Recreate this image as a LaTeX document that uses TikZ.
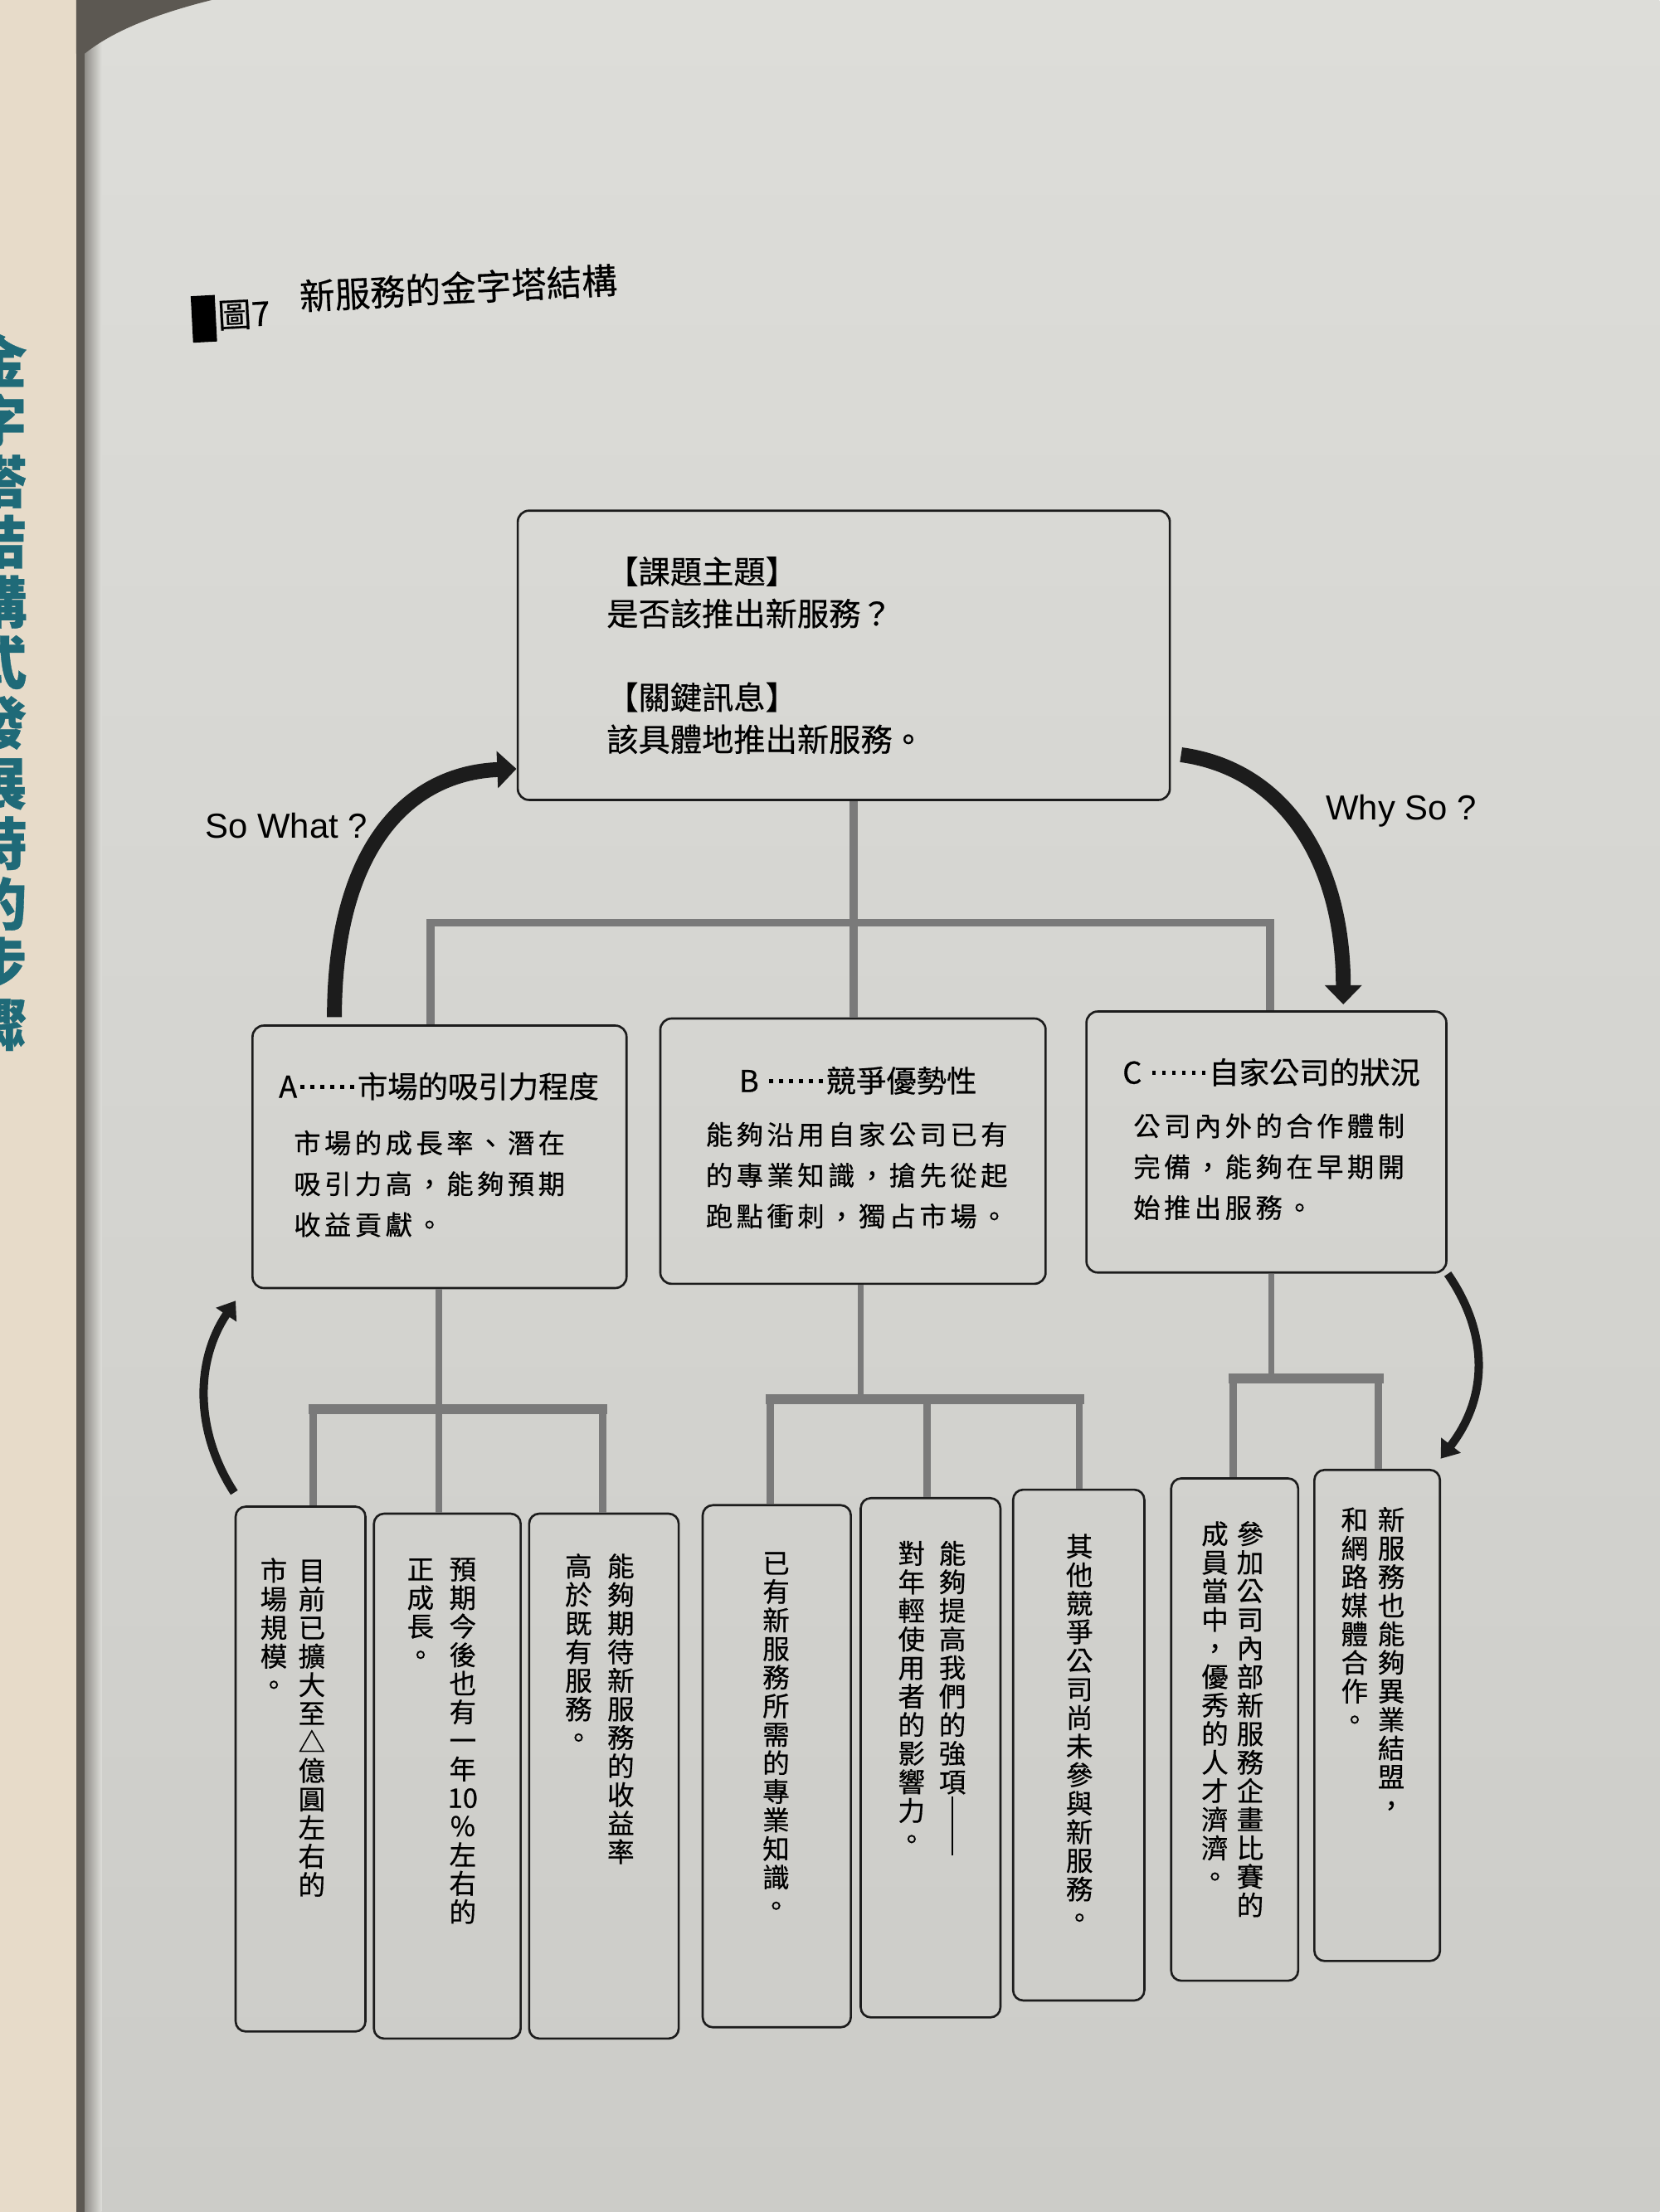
\documentclass[tikz,border=0pt]{standalone}
\usepackage{fontspec}
\setmainfont{Liberation Sans}
\newfontfamily\cjk[FakeBold=0.5]{Noto Sans CJK TC}
\newfontfamily\cjkbody[LetterSpace=14,FakeBold=0.5]{Noto Sans CJK TC}
\usetikzlibrary{arrows.meta,positioning}

\definecolor{paper}{RGB}{221,221,217}
\definecolor{paperlow}{RGB}{204,204,200}
\definecolor{spine}{RGB}{231,219,201}
\definecolor{gutter}{RGB}{92,88,82}
\definecolor{linkgray}{RGB}{122,122,122}
\definecolor{ink}{RGB}{28,28,28}
\definecolor{spineteal}{RGB}{31,106,120}

% one character per line, for the vertical columns
\newcommand\vcol[1]{\parbox[t]{1em}{\centering\vcolstep#1\relax}}
\def\vcolstep#1{\ifx\relax#1\else#1\par\expandafter\vcolstep\fi}
% six square dots, two ems wide
\newcommand\sixdots{\makebox[2em]{\foreach \k in {1,...,6}{\hspace{0.1em}\raisebox{0.3em}{\rule{0.13em}{0.13em}}\hspace{0.1em}}}}

\tikzset{
	themebox/.style={draw=ink, line width=1.1pt, rounded corners=0.2cm, minimum width=11.55cm, minimum height=5.125cm, text width=8.4cm, align=left, inner sep=0pt, font=\cjk\fontsize{16}{21.2}\selectfont},
	midbox/.style={draw=ink, line width=1.1pt, rounded corners=0.2cm, inner sep=0pt},
	midhead/.style={inner sep=0pt, font=\cjk\fontsize{15.2}{18}\selectfont},
	midbody/.style={inner sep=0pt, align=left, anchor=north west, font=\cjkbody\fontsize{13.5}{20.6}\selectfont},
	leafbox/.style={draw=ink, line width=1.1pt, rounded corners=0.18cm, inner sep=0pt},
	leaftext/.style={inner sep=0pt, anchor=north, font=\cjk\fontsize{13.6}{14.4}\selectfont},
	link/.style={draw=linkgray, line width=4pt},
	stem/.style={draw=linkgray, line width=3pt},
	bar/.style={draw=linkgray, line width=5pt, line cap=rect},
	drop/.style={draw=linkgray, line width=3.6pt},
	swing/.style={draw=ink, line width=7.5pt, -{Triangle[length=0.34cm,width=0.64cm]}},
	hook/.style={draw=ink, line width=4.2pt, -{Triangle[length=0.3cm,width=0.42cm]}},
	asklabel/.style={inner sep=0pt, font=\fontsize{17.5}{20}\selectfont},
}

\begin{document}
\begin{tikzpicture}[x=0.025cm, y=-0.025cm]
	% page of the book
	\useasboundingbox (0,0) rectangle (1176,1568);
	\shade[top color=paper, bottom color=paperlow] (0,0) rectangle (1176,1568);
	\fill[spine] (0,0) rectangle (54,1568);
	\fill[gutter] (54,0) rectangle (60,1568);
	\shade[left color=gutter!60!paper, right color=paper] (60,0) rectangle (72,1568);
	\fill[gutter] (54,0) -- (150,0) .. controls (110,10) and (80,22) .. (60,38) -- (54,38) -- cycle;
	\begin{scope}
		\clip (0,0) rectangle (54,1568);
		\node [font=\cjk\bfseries\fontsize{28.5}{30.4}\selectfont, text=spineteal, inner sep=0pt, anchor=north] (spinetext) at (-1,236) {\vcol{金字塔結構式發展時的步驟}};
	\end{scope}

	% title
	\node [fill=black, minimum width=0.425cm, minimum height=0.825cm, inner sep=0pt, rotate=3] (mark) at (144.5,226) {};
	\node [font=\cjk\fontsize{17}{20}\selectfont, inner sep=0pt, anchor=west, rotate=3] (fignum) at (154,224) {圖7};
	\node [font=\cjk\fontsize{17.8}{20}\selectfont, inner sep=0pt, anchor=west, rotate=3] (title) at (212,210) {新服務的金字塔結構};

	% boxes
	\node [themebox] (theme) at (598,464.5) {【課題主題】\\是否該推出新服務？\\[21pt]【關鍵訊息】\\該具體地推出新服務。};
	\node [midbox, minimum width=6.625cm, minimum height=4.65cm] (boxA) at (311.5,820) {};
	\node [midbox, minimum width=6.825cm, minimum height=4.7cm] (boxB) at (604.5,816) {};
	\node [midbox, minimum width=6.375cm, minimum height=4.625cm] (boxC) at (897.5,809.5) {};
	\node [midhead] (headA) at (311,770) {A\sixdots 市場的吸引力程度};
	\node [midhead] (headB) at (608,766) {B \sixdots 競爭優勢性};
	\node [midhead] (headC) at (901,760) {C \sixdots 自家公司的狀況};
	\node [midbody] (bodyA) at (208,801) {市場的成長率、潛在\\吸引力高，能夠預期\\收益貢獻。};
	\node [midbody] (bodyB) at (500,795) {能夠沿用自家公司已有\\的專業知識，搶先從起\\跑點衝刺，獨占市場。};
	\node [midbody] (bodyC) at (803,789) {公司內外的合作體制\\完備，能夠在早期開\\始推出服務。};

	\node [leafbox, minimum width=2.3cm, minimum height=9.3cm] (n1) at (213,1254) {};
	\node [leafbox, minimum width=2.6cm, minimum height=9.3cm] (n2) at (317,1259) {};
	\node [leafbox, minimum width=2.65cm, minimum height=9.3cm] (n3) at (428,1259) {};
	\node [leafbox, minimum width=2.625cm, minimum height=9.25cm] (n4) at (550.5,1252) {};
	\node [leafbox, minimum width=2.475cm, minimum height=9.2cm] (n5) at (659.5,1246) {};
	\node [leafbox, minimum width=2.325cm, minimum height=9.05cm] (n6) at (764.5,1237) {};
	\node [leafbox, minimum width=2.25cm, minimum height=8.9cm] (n7) at (875,1226) {};
	\node [leafbox, minimum width=2.225cm, minimum height=8.7cm] (n8) at (976,1216) {};
	\node [leaftext] (t1) at (207.5,1104) {\vcol{市場規模。}\hspace{5.6pt}\vcol{目前已擴大至△億圓左右的}};
	\node [leaftext] (t2) at (313,1104) {\vcol{正成長。}\hspace{7.7pt}\vcol{預期今後也有一年{\makebox[1em]{10}}％左右的}};
	\node [leaftext] (t3) at (425,1101) {\vcol{高於既有服務。}\hspace{7.7pt}\vcol{能夠期待新服務的收益率}};
	\node [leaftext] (t4) at (550,1100) {\vcol{已有新服務所需的專業知識。}};
	\node [leaftext] (t5) at (660.5,1092) {\vcol{對年輕使用者的影響力。}\hspace{7pt}\vcol{能夠提高我們的強項{\rule[-1.3em]{0.08em}{2.2em}}}};
	\node [leaftext] (t6) at (765,1087) {\vcol{其他競爭公司尚未參與新服務。}};
	\node [leaftext] (t7) at (873.5,1078) {\vcol{成員當中，優秀的人才濟濟。}\hspace{4.2pt}\vcol{參加公司內部新服務企畫比賽的}};
	\node [leaftext] (t8) at (973,1068) {\vcol{和網路媒體合作。}\hspace{4.9pt}\vcol{新服務也能夠異業結盟，}};

	% tree lines
	\coordinate (hubTop) at (605,654);
	\coordinate (barAL) at (305,654);
	\coordinate (barCR) at (900,654);
	\draw [link] (theme.south -| hubTop) to (hubTop |- boxB.north);
	\draw [link, line join=miter] (barAL |- boxA.north) -- (barAL) -- (barCR) -- (barCR |- boxC.north);

	\coordinate (hubA) at (311,999);
	\coordinate (legA1) at (222,999);
	\coordinate (legA3) at (427,999);
	\draw [stem] (boxA.south -| hubA) to (hubA);
	\draw [bar] (legA1) to (legA3);
	\draw [drop] (legA1) to (legA1 |- n1.north);
	\draw [drop] (hubA) to (hubA |- n2.north);
	\draw [drop] (legA3) to (legA3 |- n3.north);

	\coordinate (hubB) at (610,992);
	\coordinate (legB1) at (546,992);
	\coordinate (legB2) at (657,992);
	\coordinate (legB3) at (765,992);
	\draw [stem] (boxB.south -| hubB) to (hubB);
	\draw [bar] (legB1) to (legB3);
	\draw [drop] (legB1) to (legB1 |- n4.north);
	\draw [drop] (legB2) to (legB2 |- n5.north);
	\draw [drop] (legB3) to (legB3 |- n6.north);

	\coordinate (hubC) at (901,977);
	\coordinate (legC1) at (874,977);
	\coordinate (legC2) at (977,977);
	\draw [stem] (boxC.south -| hubC) to (hubC);
	\draw [bar] (legC1) to (legC2);
	\draw [drop] (legC1) to (legC1 |- n7.north);
	\draw [drop] (legC2) to (legC2 |- n8.north);

	% so what / why so
	\coordinate (soS) at (237,721);
	\coordinate (soE) at (366,545);
	\coordinate (whyS) at (837,535);
	\coordinate (whyE) at (952,712);
	\draw [swing] (soS) .. controls (237,600) and (290,548) .. (soE);
	\draw [swing] (whyS) .. controls (910,545) and (952,610) .. (whyE);
	\node [asklabel] (sowhat) at (203,585) {So What ?};
	\node [asklabel] (whyso) at (993,575) {Why So ?};

	\coordinate (loopLS) at (166,1058);
	\coordinate (loopLE) at (167,922);
	\coordinate (loopRS) at (1026,903);
	\coordinate (loopRE) at (1021,1034);
	\draw [hook] (loopLS) .. controls (138,1015) and (138,965) .. (loopLE);
	\draw [hook] (loopRS) .. controls (1055,945) and (1055,990) .. (loopRE);
\end{tikzpicture}
\end{document}
